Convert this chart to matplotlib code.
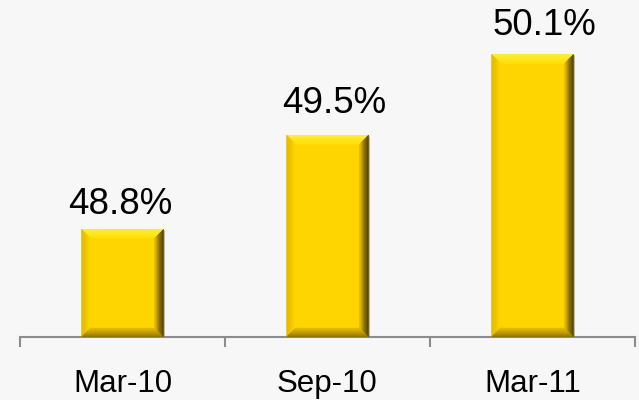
import numpy as np
import matplotlib

matplotlib.use("Agg")
import matplotlib.pyplot as plt
from matplotlib.patches import Polygon

# ---------------------------------------------------------------------------
# Data
# ---------------------------------------------------------------------------
categories = ["Mar-10", "Sep-10", "Mar-11"]
values = [48.8, 49.5, 50.1]
labels = ["48.8%", "49.5%", "50.1%"]

Y_MIN, Y_MAX = 48.0, 50.504
BAR_W = 0.4
BG = "#f7f7f7"
# label placement in the source is a bit uneven (pixels: dx, gap above bar)
LABEL_DX_PX = [-2.5, 6.5, 12]
LABEL_GAP_PX = [15, 22, 19]

plt.rcParams["font.family"] = ["Liberation Sans", "DejaVu Sans"]

fig = plt.figure(figsize=(6.39, 4.0), dpi=100, facecolor=BG)
AX_L, AX_B, AX_W, AX_H = 20 / 639, 63 / 400, 615 / 639, 337 / 400
ax = fig.add_axes([AX_L, AX_B, AX_W, AX_H], facecolor=BG)
ax.set_xlim(-0.5, 2.5)
ax.set_ylim(Y_MIN, Y_MAX)

# pixel -> data scale, for a constant-width bevel
px_x = 3.0 / (AX_W * 639)
px_y = (Y_MAX - Y_MIN) / (AX_H * 400)
BEV = 9
dx, dy = BEV * px_x, BEV * px_y


def lerp(c1, c2, t):
    a = np.array(matplotlib.colors.to_rgb(c1))
    b = np.array(matplotlib.colors.to_rgb(c2))
    return tuple(a + (b - a) * t)


def bevel_side(ax, P1, P2, Q1, Q2, c_out, c_in, n=8):
    P1, P2, Q1, Q2 = map(np.array, (P1, P2, Q1, Q2))
    for k in range(n):
        t0, t1 = k / n, (k + 1) / n
        a0 = P1 + t0 * (Q1 - P1)
        b0 = P2 + t0 * (Q2 - P2)
        a1 = P1 + t1 * (Q1 - P1)
        b1 = P2 + t1 * (Q2 - P2)
        col = lerp(c_out, c_in, (k + 0.5) / n)
        ax.add_patch(Polygon([a0, b0, b1, a1], closed=True, fc=col, ec=col,
                             lw=0.3, zorder=3))


xs = np.arange(len(categories))
ax.bar(xs, [v - Y_MIN for v in values], bottom=Y_MIN, width=BAR_W,
       color="#ffd500", edgecolor="none", zorder=2)

for x, v in zip(xs, values):
    x0, x1 = x - BAR_W / 2, x + BAR_W / 2
    y0, y1 = Y_MIN, v
    # soft shadow on the right
    ax.add_patch(Polygon([(x1, y0), (x1 + 1.5 * px_x, y0),
                          (x1 + 1.5 * px_x, y1 - 2 * px_y), (x1, y1)],
                         fc="#b8b8b8", ec="none", zorder=1))
    oc = [(x0, y0), (x1, y0), (x1, y1), (x0, y1)]
    ic = [(x0 + dx, y0 + dy), (x1 - dx, y0 + dy), (x1 - dx, y1 - dy), (x0 + dx, y1 - dy)]
    # top, left, right, bottom
    bevel_side(ax, oc[3], oc[2], ic[3], ic[2], "#fff04a", "#ffe000")
    bevel_side(ax, oc[0], oc[3], ic[0], ic[3], "#e0b400", "#ffd800")
    bevel_side(ax, oc[1], oc[2], ic[1], ic[2], "#352a00", "#e8bf00")
    bevel_side(ax, oc[0], oc[1], ic[0], ic[1], "#8a6e00", "#e6bd00")

for x, v, lab, ddx, gap in zip(xs, values, labels, LABEL_DX_PX, LABEL_GAP_PX):
    ax.annotate(lab, (x, v), xytext=(ddx * 0.72, gap * 0.72), textcoords="offset points",
                ha="center", va="baseline", fontsize=26.5, color="#000000")

for s in ("top", "right", "left"):
    ax.spines[s].set_visible(False)
ax.spines["bottom"].set_color("#8c8c8c")
ax.spines["bottom"].set_linewidth(1.5)

ax.set_yticks([])
ax.set_xticks(xs)
ax.set_xticklabels(categories, fontsize=22.5, color="#000000")
ax.tick_params(axis="x", which="major", length=0, pad=23)
ax.set_xticks([-0.5, 0.5, 1.5, 2.5], minor=True)
ax.tick_params(axis="x", which="minor", length=7, width=1.5, color="#8c8c8c",
               direction="out")

fig.savefig("out.png", dpi=100, facecolor=BG)
